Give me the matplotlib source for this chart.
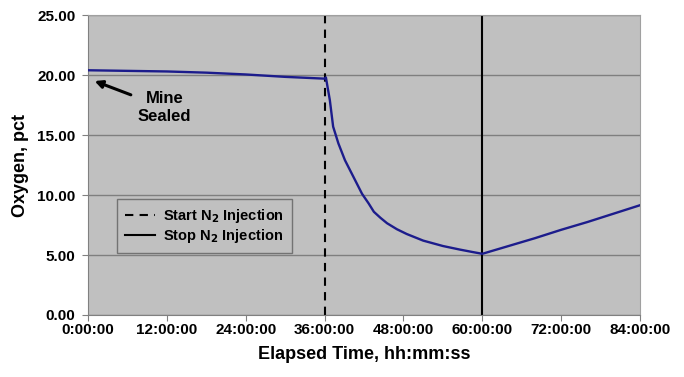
import matplotlib
matplotlib.use('Agg')
import matplotlib.pyplot as plt
from matplotlib.ticker import FixedLocator, FuncFormatter

plt.rcParams['font.family'] = ['Liberation Sans', 'DejaVu Sans']
plt.rcParams['font.weight'] = 'bold'

# elapsed hours and oxygen percent
hours = [0, 6, 12, 18, 24, 30, 34, 36.0,
         36.2, 36.8, 37.3, 38.1, 39.1, 40.4, 41.7, 42.7, 43.5, 44.5,
         45.5, 47.0, 48.5, 51.0, 54.0, 56.6, 58.5, 60.0,
         64.0, 68.0, 72.0, 76.0, 80.0, 84.0]
oxygen = [20.4, 20.35, 20.3, 20.2, 20.05, 19.85, 19.75, 19.7,
          19.8, 17.9, 15.7, 14.3, 12.9, 11.5, 10.1, 9.3, 8.6, 8.1,
          7.65, 7.15, 6.75, 6.2, 5.75, 5.45, 5.25, 5.1,
          5.75, 6.4, 7.1, 7.75, 8.45, 9.15]

start_n2 = 36.0
stop_n2 = 60.0

x_ticks = [0, 12, 24, 36, 48, 60, 72, 84]
y_ticks = [0, 5, 10, 15, 20, 25]

fig = plt.figure(figsize=(6.84, 3.77), dpi=100)
ax = fig.add_axes([0.1287, 0.1645, 0.8070, 0.7955])
ax.set_facecolor('#C0C0C0')

ax.plot(hours, oxygen, color='#1C1C8C', linewidth=1.7, zorder=3)
ax.axvline(start_n2, color='black', linestyle=(0, (4, 3)), linewidth=1.5,
           label='Start N$_2$ Injection', zorder=2)
ax.axvline(stop_n2, color='black', linestyle='-', linewidth=1.5,
           label='Stop N$_2$ Injection', zorder=2)

ax.set_xlim(0, 84)
ax.set_ylim(0, 25)
ax.xaxis.set_major_locator(FixedLocator(x_ticks))
ax.yaxis.set_major_locator(FixedLocator(y_ticks))
ax.xaxis.set_major_formatter(FuncFormatter(lambda v, p: '%d:00:00' % v))
ax.yaxis.set_major_formatter(FuncFormatter(lambda v, p: '%.2f' % v))
ax.grid(axis='y', color='#7F7F7F', linewidth=1.0, zorder=1)
ax.tick_params(labelsize=11, length=4, color='#808080')
ax.tick_params(axis='x', pad=2)
ax.tick_params(axis='y', pad=5)

for s in ax.spines.values():
    s.set_color('#A0A0A0')
ax.spines['left'].set_color('#808080')
ax.spines['bottom'].set_color('#808080')

ax.set_xlabel('Elapsed Time, hh:mm:ss', fontsize=13, fontweight='bold', labelpad=6)
ax.set_ylabel('Oxygen, pct', fontsize=13, fontweight='bold', labelpad=6)

ax.annotate('Mine\nSealed', xy=(1.0, 19.5), xytext=(11.6, 17.3),
            fontsize=12, fontweight='bold', ha='center', va='center',
            linespacing=1.3,
            arrowprops=dict(arrowstyle='-|>', color='black', lw=2.2,
                            mutation_scale=11, shrinkA=3, shrinkB=0,
                            relpos=(0.0, 0.8)))

leg = ax.legend(loc='upper left', bbox_to_anchor=(0.04, 0.41), fontsize=10.5,
                frameon=True, fancybox=False, handlelength=2.0,
                handletextpad=0.6, labelspacing=0.1, borderpad=0.55)
leg.get_frame().set_facecolor('#C0C0C0')
leg.get_frame().set_edgecolor('#606060')
leg.get_frame().set_linewidth(1.0)
for t in leg.get_texts():
    t.set_fontweight('bold')

fig.savefig('out.png', dpi=100)
